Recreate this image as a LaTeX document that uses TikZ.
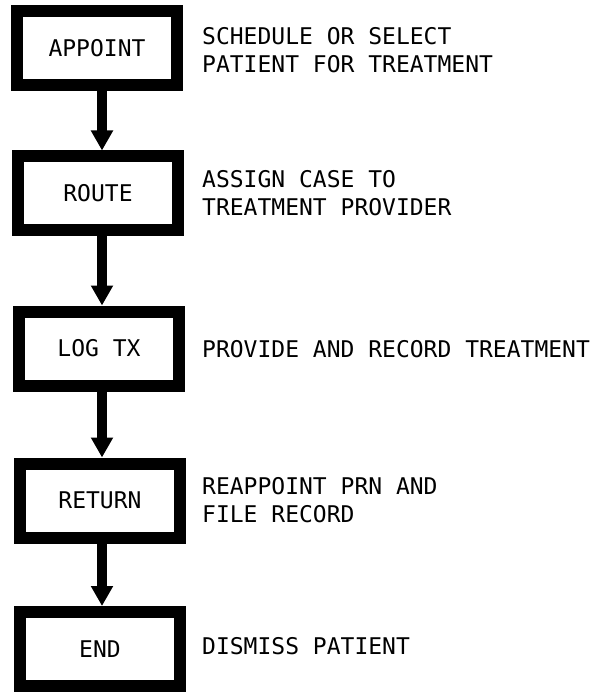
\documentclass[tikz,border=0pt]{standalone}
\usepackage{fontspec}
\setmonofont{DejaVu Sans Mono}
\usetikzlibrary{arrows.meta}
\begin{document}
\begin{tikzpicture}[x=1pt,y=-1pt,
  lettering/.style={font=\ttfamily\fontsize{23}{28.5}\selectfont},
  stepbox/.style={draw, line width=12pt, minimum width=160pt, minimum height=74pt, inner sep=0pt, lettering},
  desc/.style={anchor=west, align=left, inner sep=0pt, lettering},
  flow/.style={line width=10pt, -{Triangle[length=20pt,width=21pt]}}]
\useasboundingbox (0,0) rectangle (600,692);
\node[stepbox] (appoint) at (97,48.5) {APPOINT};
\node[stepbox] (route) at (98,193.5) {ROUTE};
\node[stepbox] (logtx) at (99,348.5) {LOG TX};
\node[stepbox] (return) at (100,500.5) {RETURN};
\node[stepbox] (end) at (100,649) {END};
\node[desc] (d1) at (202,50) {SCHEDULE OR SELECT\\PATIENT FOR TREATMENT};
\node[desc] (d2) at (202,193) {ASSIGN CASE TO\\TREATMENT PROVIDER};
\node[desc] (d3) at (202,349) {PROVIDE AND RECORD TREATMENT};
\node[desc] (d4) at (202,500) {REAPPOINT PRN AND\\FILE RECORD};
\node[desc] (d5) at (202,646) {DISMISS PATIENT};
\draw[flow] ([xshift=5pt]appoint.south) -- ([xshift=4pt]route.north);
\draw[flow] ([xshift=4pt]route.south) -- ([xshift=3pt]logtx.north);
\draw[flow] ([xshift=3pt]logtx.south) -- ([xshift=2pt]return.north);
\draw[flow] ([xshift=2pt]return.south) -- ([xshift=2pt]end.north);
\end{tikzpicture}
\end{document}
